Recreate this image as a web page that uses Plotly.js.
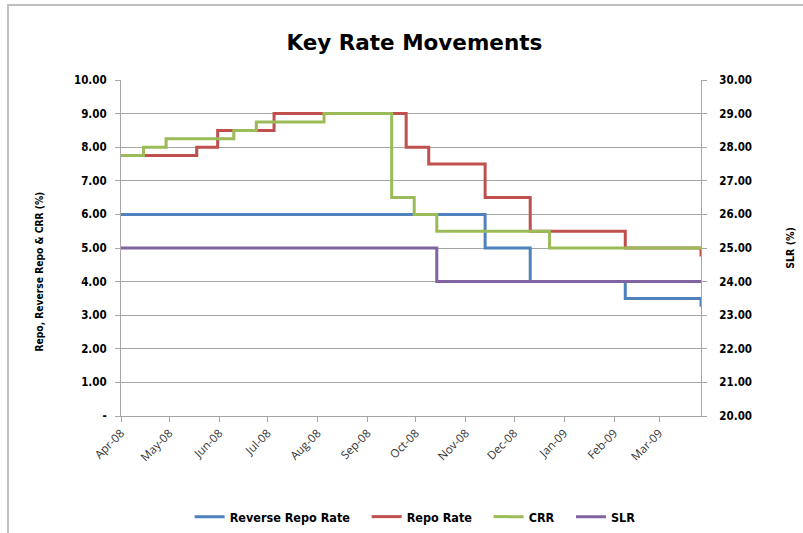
<!DOCTYPE html>
<html>
<head>
<meta charset="utf-8">
<script src="https://cdn.plot.ly/plotly-3.0.1.min.js"></script>
<style>html,body{margin:0;padding:0;background:#fff;}#chart{width:803px;height:533px;}</style>
</head>
<body>
<div id="chart"></div>
<script>
// Step-change dates and values (each value holds until the next date)
const reverseRepoDates = ["2008-04-26","2008-12-08","2009-01-05","2009-03-05","2009-04-21"];
const reverseRepoVals  = [6.00, 5.00, 4.00, 3.50, 3.25];

const repoDates = ["2008-04-26","2008-06-12","2008-06-25","2008-07-30","2008-10-20","2008-11-03","2008-12-08","2009-01-05","2009-03-05","2009-04-21"];
const repoVals  = [7.75, 8.00, 8.50, 9.00, 8.00, 7.50, 6.50, 5.50, 5.00, 4.75];

const crrDates = ["2008-04-26","2008-05-10","2008-05-24","2008-07-05","2008-07-19","2008-08-30","2008-10-11","2008-10-25","2008-11-08","2009-01-17","2009-04-21"];
const crrVals  = [7.75, 8.00, 8.25, 8.50, 8.75, 9.00, 6.50, 6.00, 5.50, 5.00, 5.00];

const slrDates = ["2008-04-26","2008-11-08","2009-04-21"];
const slrVals  = [25.00, 24.00, 24.00];

const seriesNames = ["Reverse Repo Rate", "Repo Rate", "CRR", "SLR"];

const xTickVals = ["2008-04-26","2008-05-26","2008-06-26","2008-07-26","2008-08-26","2008-09-26","2008-10-26","2008-11-26","2008-12-26","2009-01-26","2009-02-26","2009-03-26"];
const xTickText = ["Apr-08","May-08","Jun-08","Jul-08","Aug-08","Sep-08","Oct-08","Nov-08","Dec-08","Jan-09","Feb-09","Mar-09"];
const yLeftTicks = [0,1,2,3,4,5,6,7,8,9,10];
const yLeftText  = ["-","1.00","2.00","3.00","4.00","5.00","6.00","7.00","8.00","9.00","10.00"];
const yRightTicks = [20,21,22,23,24,25,26,27,28,29,30];
const yRightText  = ["20.00","21.00","22.00","23.00","24.00","25.00","26.00","27.00","28.00","29.00","30.00"];

const lw = 3;
const pad = "\u00a0\u00a0\u00a0";
const traces = [
  {x: reverseRepoDates, y: reverseRepoVals, name: seriesNames[0] + pad, type: "scatter", mode: "lines", line: {shape: "hv", color: "#4F81BD", width: lw}},
  {x: repoDates, y: repoVals, name: seriesNames[1] + pad, type: "scatter", mode: "lines", line: {shape: "hv", color: "#C0504D", width: lw}},
  {x: crrDates, y: crrVals, name: seriesNames[2] + pad, type: "scatter", mode: "lines", line: {shape: "hv", color: "#9BBB59", width: lw}},
  {x: slrDates, y: slrVals, name: seriesNames[3], type: "scatter", mode: "lines", yaxis: "y2", line: {shape: "hv", color: "#8064A2", width: lw}}
];

const boldFont = {family: "DejaVu Sans Condensed, DejaVu Sans, sans-serif", size: 11.5, color: "#000", weight: "bold"};

const layout = {
  width: 803, height: 533,
  margin: {l: 121, r: 102, t: 80, b: 117, autoexpand: false},
  paper_bgcolor: "#fff", plot_bgcolor: "#fff",
  showlegend: true,
  title: {text: "<b>Key Rate Movements</b>", x: 0.516, xanchor: "center", xref: "container", y: 0.921, yanchor: "middle", yref: "container",
          font: {family: "DejaVu Sans, sans-serif", size: 21.5, color: "#000"}},
  xaxis: {type: "date", range: ["2008-04-26", "2009-04-21"], tickvals: xTickVals, ticktext: xTickText, automargin: false,
          tickangle: -45, ticks: "outside", ticklen: 5, tickcolor: "#A6A6A6",
          showline: true, linecolor: "#A6A6A6", linewidth: 1, showgrid: false, zeroline: false,
          tickfont: {family: "Open Sans, sans-serif", size: 11.5, color: "#333"}},
  yaxis: {range: [0, 10], tickvals: yLeftTicks, ticktext: yLeftText, ticks: "outside", ticklen: 5, tickcolor: "#A6A6A6",
          automargin: false, ticklabelstandoff: 6,
          showline: true, linecolor: "#A6A6A6", linewidth: 1, showgrid: true, gridcolor: "#A6A6A6", gridwidth: 1,
          zeroline: false, tickfont: boldFont},
  yaxis2: {range: [20, 30], overlaying: "y", side: "right", tickvals: yRightTicks, ticktext: yRightText,
           automargin: false, ticklabelstandoff: 10,
           ticks: "outside", ticklen: 5, tickcolor: "#A6A6A6",
           showline: true, linecolor: "#A6A6A6", linewidth: 1, showgrid: false, zeroline: false, tickfont: boldFont},
  legend: {orientation: "h", x: 0.517, xanchor: "center", xref: "container", y: 0.03, yanchor: "middle", yref: "container",
           font: {family: "DejaVu Sans Condensed, DejaVu Sans, sans-serif", size: 12.5, color: "#000", weight: "bold"},
           itemwidth: 30, tracegroupgap: 0},
  annotations: [
    {text: "<b>Repo, Reverse Repo & CRR (%)</b>", xref: "paper", yref: "paper", x: -0.1397, y: 0.43,
     showarrow: false, textangle: -90, xanchor: "center", yanchor: "middle",
     font: {family: "DejaVu Sans Condensed, DejaVu Sans, sans-serif", size: 10.2, color: "#000"}},
    {text: "<b>SLR (%)</b>", xref: "paper", yref: "paper", x: 1.153, y: 0.5,
     showarrow: false, textangle: -90, xanchor: "center", yanchor: "middle",
     font: {family: "DejaVu Sans Condensed, DejaVu Sans, sans-serif", size: 10.5, color: "#000"}}
  ],
  shapes: [
    {type: "rect", xref: "paper", yref: "paper", x0: -0.1948, x1: 1.2, y0: -0.40, y1: 1.223,
     line: {color: "#BFBFBF", width: 2}, fillcolor: "rgba(0,0,0,0)", layer: "below"}
  ]
};

Plotly.newPlot("chart", traces, layout, {displayModeBar: false, staticPlot: true});
</script>
</body>
</html>
